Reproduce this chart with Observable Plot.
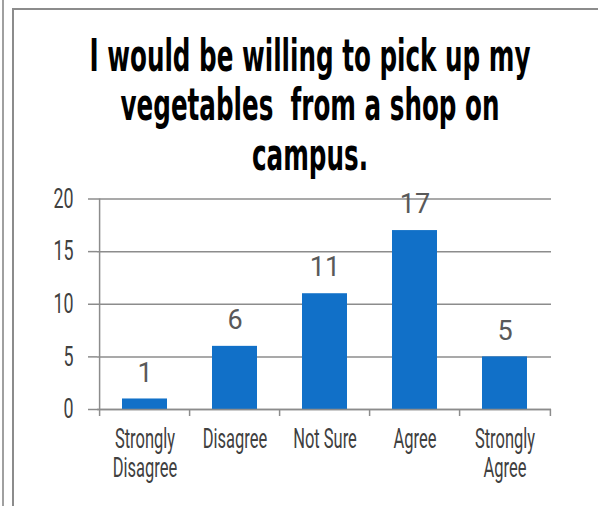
<!DOCTYPE html>
<html>
<head>
<meta charset="utf-8">
<script src="https://cdn.jsdelivr.net/npm/d3@7"></script>
<script src="https://cdn.jsdelivr.net/npm/@observablehq/plot@0.6"></script>
<style>
  html, body { margin: 0; padding: 0; background: #fff; }
  #wrap { position: relative; width: 598px; height: 506px; overflow: hidden; background: #fff; }
  #wrap svg { display: block; }
  .bline { position: absolute; z-index: 5; }
  #outer { left: 2px; top: 0; width: 2px; height: 506px; background: #a0a0a0; }
  #innerL { left: 12px; top: 8px; width: 2px; height: 498px; background: #8c8c8c; }
  #innerT { left: 12px; top: 8px; width: 586px; height: 2px; background: #8c8c8c; }
</style>
</head>
<body>
<div id="wrap">
  <div id="head"></div>
  <div id="chart"></div>
  <div class="bline" id="outer"></div>
  <div class="bline" id="innerL"></div>
  <div class="bline" id="innerT"></div>
</div>
<script>
// ---- data ----
const titleLines = ["I would be willing to pick up my", "vegetables  from a shop on", "campus."];
const categories = ["Strongly\nDisagree", "Disagree", "Not Sure", "Agree", "Strongly\nAgree"];
const values = [1, 6, 11, 17, 5];
const yTicks = [0, 5, 10, 15, 20];

// ---- style ----
const W = 598, H = 326, ML = 97, MR = 47, MT = 18.5, MB = 97;
const step = (W - ML - MR) / categories.length;
const gridColor = "#8c8c8c";
const barColor = "#1170c8";
const labelFont = "Roboto, 'DejaVu Sans', sans-serif";

function condense(els, k) {
  els.forEach(e => {
    const w = e.getComputedTextLength();
    if (w > 0) {
      e.setAttribute("textLength", (w * k).toFixed(2));
      e.setAttribute("lengthAdjust", "spacingAndGlyphs");
    }
  });
}
function condenseGroup(svg, label, k) {
  svg.querySelectorAll(`g[aria-label="${label}"] text`).forEach(t => {
    const spans = t.querySelectorAll("tspan");
    condense(spans.length ? Array.from(spans) : [t], k);
  });
}

// ---- title ----
const head = d3.select("#head").append("svg")
  .attr("width", W).attr("height", 180)
  .style("background", "#fff");
const tl = head.selectAll("text").data(titleLines).join("text")
  .attr("x", 310)
  .attr("y", (d, i) => 70.5 + i * 49.5)
  .attr("text-anchor", "middle")
  .attr("font-family", "'DejaVu Sans', sans-serif")
  .attr("font-stretch", "condensed")
  .attr("font-weight", "bold")
  .attr("font-size", 44)
  .attr("fill", "#000")
  .style("white-space", "pre")
  .text(d => d);
{
  const nodes = tl.nodes();
  const k = 441 / nodes[0].getComputedTextLength();
  condense(nodes, k);
}

// ---- chart ----
const data = categories.map((c, i) => ({c, v: values[i]}));
const plot = Plot.plot({
  width: W, height: H,
  marginLeft: ML, marginRight: MR, marginTop: MT, marginBottom: MB,
  style: {fontFamily: labelFont, fontSize: "27px", color: "#404040", background: "#fff", overflow: "visible"},
  x: {domain: categories, paddingInner: 0.5, paddingOuter: 0.25, label: null},
  y: {domain: [0, 20], label: null},
  marks: [
    Plot.gridY(yTicks, {stroke: gridColor, strokeOpacity: 1, strokeWidth: 1.5}),
    Plot.axisY(yTicks, {tickSize: 9, tickPadding: 15, stroke: gridColor, strokeWidth: 1.5, fill: "#404040", fontSize: 27, label: null}),
    Plot.barY(data, {x: "c", y: "v", fill: barColor}),
    Plot.text(data, {x: "c", y: "v", text: d => String(d.v), dy: -26, fill: "#595959", fontSize: 27, ariaLabel: "values"}),
    Plot.ruleY([0], {stroke: gridColor, strokeWidth: 1.5}),
    Plot.ruleX(categories, {x: d => d, dx: -step / 2, y1: 0, y2: 0, insetBottom: -7, stroke: gridColor, strokeWidth: 1.5}),
    Plot.ruleX([categories[categories.length - 1]], {x: d => d, dx: step / 2, y1: 0, y2: 0, insetBottom: -7, stroke: gridColor, strokeWidth: 1.5}),
    Plot.ruleX([categories[0]], {x: d => d, dx: -step / 2, y1: 0, y2: 20, stroke: gridColor, strokeWidth: 1.5}),
    Plot.axisX({tickSize: 0, tickPadding: 19, lineHeight: 1.04, fill: "#404040", fontSize: 27, label: null})
  ]
});
document.getElementById("chart").appendChild(plot);
condenseGroup(plot, "y-axis tick label", 0.66);
condenseGroup(plot, "x-axis tick label", 0.61);
condenseGroup(plot, "values", 0.55);
</script>
</body>
</html>
